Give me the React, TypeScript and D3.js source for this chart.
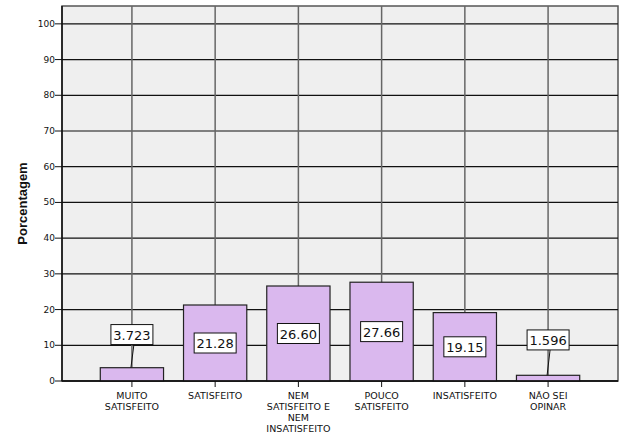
import React from "react";
import * as d3 from "d3";

const categories = [
  "MUITO\nSATISFEITO",
  "SATISFEITO",
  "NEM\nSATISFEITO E\nNEM\nINSATISFEITO",
  "POUCO\nSATISFEITO",
  "INSATISFEITO",
  "NÃO SEI\nOPINAR",
];
const values = [3.723, 21.28, 26.6, 27.66, 19.15, 1.596];
const valueLabels = ["3.723", "21.28", "26.60", "27.66", "19.15", "1.596"];
// label centre positions (value units) for small bars that use leader lines
const labelCenters = [13, 10.64, 13.3, 13.83, 9.575, 11.5];
const yTicks = [0, 10, 20, 30, 40, 50, 60, 70, 80, 90, 100];

const W = 625;
const H = 434;
const left = 62, right = 618, top = 6, bottom = 381;

export default function App() {
  const x = d3.scalePoint<string>().domain(categories).range([left, right]).padding(0.84);
  const y = d3.scaleLinear().domain([0, 105]).range([bottom, top]);
  const barW = x.step() * 0.76;
  const font = "'DejaVu Sans', Verdana, sans-serif";

  return (
    <svg width={W} height={H} style={{ position: "absolute", left: 0, top: 0, background: "#fff" }}>
      <rect x={left} y={top} width={right - left} height={bottom - top} fill="#efefef" stroke="#555" strokeWidth={1.5} />
      {yTicks.map((t) => (
        <g key={t}>
          <line x1={left} x2={right} y1={y(t)} y2={y(t)} stroke="#111" strokeWidth={1.2} />
          <line x1={left - 7} x2={left} y1={y(t)} y2={y(t)} stroke="#111" strokeWidth={1} />
          <text x={left - 7} y={y(t) + 3} textAnchor="end" fontSize={9} fontFamily={font} fill="#111">{t}</text>
        </g>
      ))}
      {categories.map((c) => (
        <line key={c} x1={x(c)} x2={x(c)} y1={top} y2={bottom} stroke="#666" strokeWidth={1.5} />
      ))}
      {categories.map((c, i) => (
        <rect key={c} x={x(c)! - barW / 2} y={y(values[i])} width={barW} height={bottom - y(values[i])}
          fill="#dab8ee" stroke="#222" strokeWidth={1.2} />
      ))}
      <line x1={left} x2={left} y1={top} y2={bottom} stroke="#111" strokeWidth={1.5} />
      <line x1={left} x2={right} y1={bottom} y2={bottom} stroke="#111" strokeWidth={1.5} />
      {categories.map((c, i) => {
        const cx = x(c)!;
        const cy = y(labelCenters[i]);
        const bw = valueLabels[i].length * 7.6 + 4;
        const bh = 20;
        const small = values[i] < 5;
        return (
          <g key={"l" + c}>
            {small && <line x1={cx + 2} y1={cy + bh / 2} x2={cx - 1} y2={y(values[i])} stroke="#111" strokeWidth={1} />}
            <rect x={cx - bw / 2} y={cy - bh / 2} width={bw} height={bh} fill="#fff" stroke="#111" strokeWidth={1} />
            <text x={cx} y={cy + 5} textAnchor="middle" fontSize={13} fontFamily={font} fill="#111">{valueLabels[i]}</text>
          </g>
        );
      })}
      {categories.map((c) => (
        <g key={"t" + c}>
          <line x1={x(c)} x2={x(c)} y1={bottom} y2={bottom + 6} stroke="#111" strokeWidth={1} />
          {c.split("\n").map((line, j) => (
            <text key={j} x={x(c)} y={399 + j * 11} textAnchor="middle" fontSize={9.5} fontFamily={font} fill="#111">{line}</text>
          ))}
        </g>
      ))}
      <text transform={`translate(27,${(top + bottom) / 2 + 10}) rotate(-90)`} textAnchor="middle" fontSize={13}
        fontWeight="bold" fontFamily="'Liberation Sans', Arial, sans-serif" fill="#111">Porcentagem</text>
    </svg>
  );
}
